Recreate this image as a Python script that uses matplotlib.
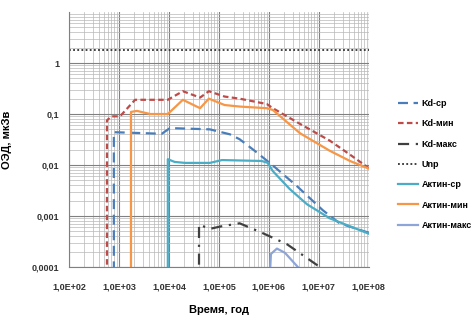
import matplotlib.pyplot as plt
from matplotlib.ticker import FixedLocator, LogLocator, NullFormatter

plt.rcParams['font.family'] = ['Liberation Sans', 'DejaVu Sans']

# ---------------- data ----------------
kd_sr_t = [790, 790, 7200, 10500, 66000, 1.66e5, 2.6e5, 5.2e5, 1.2e6, 3.6e6, 1.2e7, 2.6e7, 1e8]
kd_sr_v = [1e-5, 0.044, 0.041, 0.053, 0.05, 0.04, 0.032, 0.019, 0.0098, 0.0039, 0.0013, 0.00072, 0.00047]

kd_min_t = [575, 575, 700, 1050, 2100, 9500, 19000, 42000, 63000, 1.3e5, 2.6e5, 9.1e5, 1.2e6, 4.2e6, 1.66e7, 4.2e7, 1e8]
kd_min_v = [1e-5, 0.075, 0.09, 0.09, 0.19, 0.19, 0.28, 0.21, 0.28, 0.22, 0.2, 0.157, 0.13, 0.064, 0.03, 0.016, 0.0087]

kd_max_t = [40000, 40000, 66000, 1.05e5, 2.6e5, 7.6e5, 2.3e6, 1.05e7]
kd_max_v = [1e-5, 0.00068, 0.00056, 0.00062, 0.00072, 0.00046, 0.00028, 0.0001]

unp_t = [100, 1e8]
unp_v = [1.8, 1.8]

act_sr_t = [9500, 9500, 13000, 21000, 66000, 1.15e5, 7.2e5, 9.5e5, 1.2e6, 2.6e6, 5.8e6, 1.66e7, 1e8]
act_sr_v = [1e-5, 0.013, 0.0115, 0.011, 0.011, 0.0125, 0.012, 0.011, 0.0076, 0.0034, 0.0017, 0.0009, 0.00045]

act_min_t = [1740, 1740, 2300, 4200, 9500, 19000, 42000, 63000, 1.3e5, 2.6e5, 9.1e5, 1.2e6, 4.2e6, 1.66e7, 4.2e7, 1e8]
act_min_v = [1e-5, 0.11, 0.115, 0.1, 0.1, 0.19, 0.13, 0.2, 0.15, 0.14, 0.13, 0.12, 0.042, 0.019, 0.012, 0.0085]

act_max_t = [9.5e5, 1.1e6, 1.45e6, 2.1e6, 3.8e6]
act_max_v = [1e-5, 0.00018, 0.00023, 0.00019, 0.0001]

x_ticks = [1e2, 1e3, 1e4, 1e5, 1e6, 1e7, 1e8]
x_labels = ["1,0E+02", "1,0E+03", "1,0E+04", "1,0E+05", "1,0E+06", "1,0E+07", "1,0E+08"]
y_ticks = [1e-4, 1e-3, 1e-2, 1e-1, 1]
y_labels = ["0,0001", "0,001", "0,01", "0,1", "1"]

fig = plt.figure(figsize=(4.71, 3.29), dpi=100)
ax = fig.add_axes([0.1465, 0.1884, 0.6365, 0.7751])

lw = 1.6
ax.plot(kd_sr_t, kd_sr_v, color="#4a7ebb", lw=lw, dashes=(4.5, 2.5), label="Kd-ср")
ax.plot(kd_min_t, kd_min_v, color="#be4b48", lw=lw, dashes=(2.5, 1.5), label="Kd-мин")
ax.plot(kd_max_t, kd_max_v, color="#404040", lw=lw, dashes=(5, 3, 1, 3), label="Kd-макс")
ax.plot(unp_t, unp_v, color="#303030", lw=1.3, dashes=(1, 1.3), label="Unp")
ax.plot(act_sr_t, act_sr_v, color="#4bacc6", lw=lw, label="Актин-ср")
ax.plot(act_min_t, act_min_v, color="#f79646", lw=lw, label="Актин-мин")
ax.plot(act_max_t, act_max_v, color="#8ea5d8", lw=lw, label="Актин-макс")

ax.set_xscale("log")
ax.set_yscale("log")
ax.set_xlim(1e2, 1e8)
ax.set_ylim(1e-4, 10)

ax.xaxis.set_major_locator(FixedLocator(x_ticks))
ax.set_xticklabels(x_labels)
ax.yaxis.set_major_locator(FixedLocator(y_ticks))
ax.set_yticklabels(y_labels)
ax.xaxis.set_minor_locator(LogLocator(base=10, subs=range(2, 10), numticks=20))
ax.yaxis.set_minor_locator(LogLocator(base=10, subs=range(2, 10), numticks=20))
ax.xaxis.set_minor_formatter(NullFormatter())
ax.yaxis.set_minor_formatter(NullFormatter())

ax.grid(which="major", color="#808080", lw=0.8)
ax.grid(which="minor", color="#b8b8b8", lw=0.5)
ax.set_axisbelow(True)
for s in ["top", "right"]:
    ax.spines[s].set_visible(False)
ax.spines["left"].set_color("#808080")
ax.spines["bottom"].set_color("#808080")
ax.tick_params(which="both", length=0, labelsize=6.5)
ax.tick_params(axis="x", pad=11)
ax.tick_params(axis="y", pad=7)
for lab in ax.get_xticklabels() + ax.get_yticklabels():
    lab.set_fontweight("bold")
    lab.set_color("#333333")

ax.set_xlabel("Время, год", fontsize=8, fontweight="bold", labelpad=10)
ax.set_ylabel("ОЭД, мкЗв", fontsize=8, fontweight="bold", labelpad=14)

leg = ax.legend(loc="upper left", bbox_to_anchor=(1.07, 0.69), frameon=False,
                fontsize=6.5, handlelength=2.2, labelspacing=1.25, handletextpad=0.4)
for t in leg.get_texts():
    t.set_fontweight("bold")

fig.savefig("out.png", dpi=100)
